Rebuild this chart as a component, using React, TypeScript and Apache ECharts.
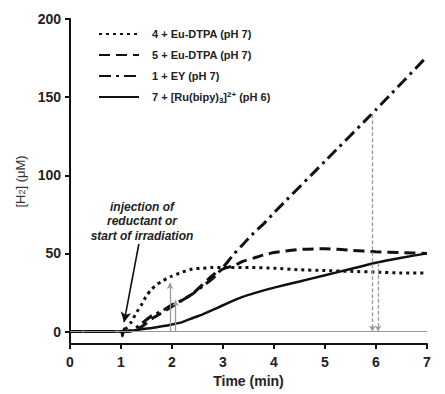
import React, { useEffect, useRef } from "react";
import * as echarts from "echarts";

const X_TICKS = [0, 1, 2, 3, 4, 5, 6, 7];
const Y_TICKS = [0, 50, 100, 150, 200];

const NAME_4 = "4 + Eu-DTPA (pH 7)";
const TIME_4 = [0, 1.0, 1.1, 1.2, 1.3, 1.4, 1.5, 1.6, 1.7, 1.8, 1.9, 2.0, 2.2, 2.4, 2.6, 2.8, 3.0, 3.5, 4.0, 4.5, 5.0, 5.5, 6.0, 6.5, 7.0];
const H2_4 = [0, 0, 2, 6, 12, 17, 23, 27, 30, 32, 34, 35.5, 38, 40, 40.5, 41, 41, 41, 40.5, 39.5, 39, 38.5, 38, 37.5, 37.5];

const NAME_5 = "5 + Eu-DTPA (pH 7)";
const TIME_5 = [0, 1.0, 1.2, 1.4, 1.6, 1.8, 2.0, 2.2, 2.4, 2.6, 2.8, 3.0, 3.2, 3.4, 3.6, 3.8, 4.0, 4.5, 5.0, 5.5, 6.0, 6.5, 7.0];
const H2_5 = [0, 0, 0.5, 3, 8, 12, 16, 20, 24, 30, 36, 40, 42, 45, 47, 49, 50.5, 52.5, 53, 52, 51, 50.5, 50];

const NAME_1 = "1 + EY (pH 7)";
const TIME_1 = [0, 1.0, 1.2, 1.4, 1.6, 1.8, 2.0, 2.2, 2.4, 2.6, 2.8, 3.0, 3.2, 3.4, 3.6, 3.8, 4.0, 5.0, 6.0, 7.0];
const H2_1 = [0, 0, 0.5, 5, 10, 13, 17, 20, 24, 29, 34, 41, 49, 56, 63, 69, 76, 109, 142, 176];

const NAME_7 = "7 + [Ru(bipy)3]2+ (pH 6)";
const TIME_7 = [0, 1.0, 1.03, 1.06, 1.1, 1.2, 1.4, 1.6, 1.8, 2.0, 2.2, 2.4, 2.6, 2.8, 3.0, 3.2, 3.4, 3.6, 3.8, 4.0, 4.5, 5.0, 5.5, 6.0, 6.5, 7.0];
const H2_7 = [0, 0, -3, 2, 0, 0.3, 1.5, 2.3, 3.3, 4.5, 6, 8.5, 11, 13.8, 16.8, 19.8, 22.3, 24.4, 26.3, 28.1, 32, 36, 40, 44, 47.2, 50];

const ARROW_UP_T = [1.96, 2.07];
const ARROW_UP_Y = [31, 20];
const ARROW_DOWN_T = [5.93, 6.04];
const ARROW_DOWN_Y = [139, 44];

const NOTE_LINES = ["injection of", "reductant or", "start of irradiation"];
const NOTE_FROM = [1.35, 56];
const NOTE_TO = [1.06, 6];

const FONT = "'Liberation Sans', Arial, Helvetica, sans-serif";
const INK = "#111";
const GRAY = "#9a9a9a";

const pairs = (t: number[], v: number[]) => t.map((x, i) => [x, v[i]]);

export default function App() {
  const ref = useRef<HTMLDivElement>(null);
  useEffect(() => {
    if (!ref.current) return;
    const chart = echarts.init(ref.current, null, { renderer: "svg" });
    const lineSeries = (name: string, t: number[], v: number[], type: any, width: number) => ({
      name,
      type: "line",
      data: pairs(t, v),
      symbol: "none",
      smooth: 0.2,
      z: 3,
      lineStyle: { color: INK, width, type, cap: "butt" },
      itemStyle: { color: INK },
    });
    const option: any = {
      animation: false,
      backgroundColor: "#fff",
      grid: { left: 70, right: 18, top: 19, bottom: 50, containLabel: false },
      legend: {
        orient: "vertical",
        left: 93,
        top: 22,
        itemWidth: 40,
        itemHeight: 14,
        itemGap: 7,
        data: [NAME_4, NAME_5, NAME_1, NAME_7],
        itemStyle: { color: "transparent", borderColor: "transparent", borderWidth: 0, opacity: 0 },
        formatter: (n: string) =>
          n === NAME_7 ? "7 + [Ru(bipy){sub|3}]{sup|2+} (pH 6)" : n,
        textStyle: {
          fontFamily: FONT,
          fontWeight: "bold",
          fontSize: 11,
          color: "#222",
          padding: [0, 0, 0, 8],
          lineHeight: 14,
          rich: {
            sub: { fontFamily: FONT, fontWeight: "bold", fontSize: 8, color: "#222", lineHeight: 8, verticalAlign: "bottom", padding: [4, 0, 0, 0] },
            sup: { fontFamily: FONT, fontWeight: "bold", fontSize: 8, color: "#222", lineHeight: 8, verticalAlign: "top", padding: [0, 0, 3, 0] },
          },
        },
      },
      xAxis: {
        type: "value",
        min: X_TICKS[0],
        max: X_TICKS[X_TICKS.length - 1],
        interval: 1,
        name: "Time (min)",
        nameLocation: "middle",
        nameGap: 29,
        nameTextStyle: { fontFamily: FONT, fontWeight: "bold", fontSize: 14, color: "#222" },
        splitLine: { show: false },
        axisLine: { onZero: false, lineStyle: { color: INK, width: 2 } },
        axisTick: { length: 5, lineStyle: { color: INK, width: 2 } },
        axisLabel: { fontFamily: FONT, fontWeight: "bold", fontSize: 14, color: "#222", margin: 11 },
      },
      yAxis: {
        type: "value",
        min: -8,
        max: 200,
        name: "[H{sub|2}] (\u03bcM)",
        nameLocation: "middle",
        nameGap: 30,
        nameRotate: 90,
        nameTextStyle: {
          fontFamily: FONT,
          fontSize: 13,
          color: "#333",
          rich: { sub: { fontFamily: FONT, fontSize: 9, color: "#333", lineHeight: 9, verticalAlign: "bottom", padding: [5, 0, 0, 0] } },
        },
        splitLine: { show: false },
        axisLine: { onZero: false, lineStyle: { color: INK, width: 2 } },
        axisTick: { length: 5, customValues: Y_TICKS, lineStyle: { color: INK, width: 2 } },
        axisLabel: { customValues: Y_TICKS, fontFamily: FONT, fontWeight: "bold", fontSize: 14, color: "#222", margin: 9 },
      },
      graphic: [
        {
          type: "text",
          x: 142,
          y: 200,
          style: {
            text: NOTE_LINES.join("\n"),
            align: "center",
            textAlign: "center",
            verticalAlign: "top",
            fontFamily: FONT,
            fontWeight: "bold",
            fontStyle: "italic",
            fontSize: 12,
            lineHeight: 14.2,
            fill: "#222",
          },
        },
      ],
      series: [
        {
          name: "refs",
          type: "line",
          data: [],
          silent: true,
          z: 1,
          markLine: {
            silent: true,
            animation: false,
            label: { show: false },
            data: [
              [
                { coord: [X_TICKS[0], 0], symbol: "none", lineStyle: { color: GRAY, width: 1, type: "solid" } },
                { coord: [X_TICKS[X_TICKS.length - 1], 0], symbol: "none" },
              ],
              ...ARROW_UP_T.map((t, i) => [
                { coord: [t, 0], symbol: "none", lineStyle: { color: GRAY, width: 1.3, type: "solid" } },
                { coord: [t, ARROW_UP_Y[i]], symbol: "arrow", symbolSize: [5, 6] },
              ]),
              ...ARROW_DOWN_T.map((t, i) => [
                { coord: [t, ARROW_DOWN_Y[i]], symbol: "none", lineStyle: { color: GRAY, width: 1.3, type: [4, 2] } },
                { coord: [t, 0], symbol: "arrow", symbolSize: [5, 6] },
              ]),
              [
                { coord: NOTE_FROM, symbol: "none", lineStyle: { color: INK, width: 1.6, type: "solid" } },
                { coord: NOTE_TO, symbol: "arrow", symbolSize: [8, 10] },
              ],
            ],
          },
        },
        lineSeries(NAME_4, TIME_4, H2_4, [3, 4], 3),
        lineSeries(NAME_5, TIME_5, H2_5, [11, 6], 3),
        lineSeries(NAME_1, TIME_1, H2_1, [12, 5, 3, 5], 3),
        lineSeries(NAME_7, TIME_7, H2_7, "solid", 2.5),
      ],
    };
    chart.setOption(option);
    return () => chart.dispose();
  }, []);
  return <div ref={ref} style={{ position: "fixed", left: 0, top: 0, width: 445, height: 394 }} />;
}
